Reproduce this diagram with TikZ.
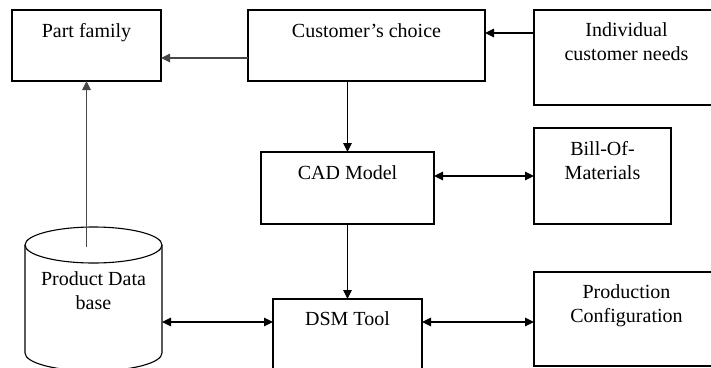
\documentclass[tikz,border=0pt]{standalone}
\usepackage{fontspec}
\setmainfont{Liberation Serif}
\usetikzlibrary{arrows.meta}

\begin{document}
\begin{tikzpicture}[x=1pt, y=-1pt,
  box/.style={draw, line width=1.1pt, inner sep=0pt, outer sep=0pt, anchor=north west},
  lbl/.style={anchor=base, align=center, inner sep=0pt,
              font=\fontsize{20}{24}\selectfont},
  tip/.tip={Triangle[length=9pt,width=8.5pt]},
  arr/.style={line width=1.1pt, -tip},
  darr/.style={line width=1.1pt, tip-tip},
  grey/.style={draw=black!72, fill=black!72, line width=1.3pt}]

\path[use as bounding box, clip] (0,0) rectangle (711,367);

% boxes
\node[box, minimum width=149pt, minimum height=71pt] (pf)  at (12,10)  {};
\node[box, minimum width=237pt, minimum height=71pt] (cc)  at (248,10) {};
\node[box, minimum width=185pt, minimum height=95pt] (icn) at (534,10) {};
\node[box, minimum width=173pt, minimum height=72pt] (cad) at (261,152) {};
\node[box, minimum width=137pt, minimum height=96pt] (bom) at (534,128) {};
\node[box, minimum width=149pt, minimum height=81pt] (dsm) at (273,299) {};
\node[box, minimum width=185pt, minimum height=94pt] (pc)  at (534,272) {};

% database cylinder (body area as a node, outline drawn by hand)
\node[anchor=north west, inner sep=0pt, outer sep=0pt,
      minimum width=137pt, minimum height=108pt] (db) at (25,245) {};
\draw[line width=1.1pt] (db.north west) -- (db.south west)
  arc[start angle=180, end angle=360, x radius=68.5pt, y radius=18pt]
  -- (db.north east);
\draw[line width=1.1pt] (db.north) ellipse [x radius=68.5pt, y radius=18pt];

% labels (anchor=base sits on the last line)
\node[lbl] (pf-t)  at (86.5,37)  {Part family};
\node[lbl] (cc-t)  at (366.5,37) {Customer’s choice};
\node[lbl] (icn-t) at (626.5,60) {Individual\\customer needs};
\node[lbl] (cad-t) at (347.5,179) {CAD Model};
\node[lbl] (bom-t) at (602.5,179) {Bill-Of-\\Materials};
\node[lbl] (dsm-t) at (347.5,325) {DSM Tool};
\node[lbl] (pc-t)  at (626.5,322) {Production\\Configuration};
\node[lbl] (db-t)  at (93.5,309) {Product Data\\base};

% connectors
\draw[arr, grey] ([yshift=-12.5pt]cc.west) -- ([yshift=-12.5pt]cc.west -| pf.east);
\draw[arr] ([yshift=24.5pt]icn.west) -- ([yshift=24.5pt]icn.west -| cc.east);
\draw[arr] (cad.north |- cc.south) -- (cad.north);
\draw[darr] (bom.west -| cad.east) -- (bom.west);
\draw[arr] (cad.south) -- (dsm.north);
\draw[darr] ([yshift=-3pt]pc.west -| dsm.east) -- ([yshift=-3pt]pc.west);
\draw[darr] ([yshift=-3pt]pc.west -| db.east) -- ([yshift=-3pt]pc.west -| dsm.west);
\draw[arr, grey] ([yshift=-2pt]db.north -| pf.south) -- (pf.south);

\end{tikzpicture}
\end{document}
